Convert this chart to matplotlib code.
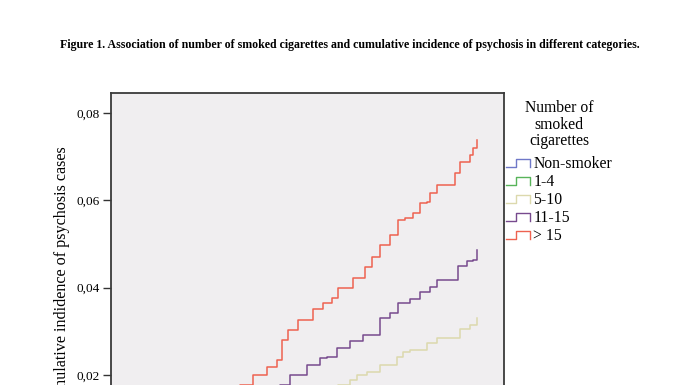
import matplotlib
matplotlib.use("Agg")
from matplotlib import pyplot as plt
from matplotlib.legend_handler import HandlerBase
from matplotlib.lines import Line2D

plt.rcParams['font.family'] = ['Liberation Serif', 'DejaVu Serif']

# follow-up time (arbitrary units, axis not visible) and cumulative incidence
t_non = [0, 4.0, 8.0, 12.0, 16.0, 18.63]
ci_non = [0, 0.002, 0.004, 0.006, 0.008, 0.0095]

t_1_4 = [0, 4.0, 8.0, 12.0, 16.0, 18.63]
ci_1_4 = [0, 0.003, 0.006, 0.009, 0.012, 0.014]

t_5_10 = [0, 4.0, 8.0, 10.5, 11.55, 12.16, 12.52, 13.03, 13.69, 14.56, 14.86,
          15.22, 16.08, 16.59, 17.40, 17.76, 18.27, 18.63]
ci_5_10 = [0, 0.004, 0.009, 0.0145, 0.0177, 0.0189, 0.0200, 0.0207, 0.0223,
           0.0241, 0.0253, 0.0257, 0.0273, 0.0285, 0.0285, 0.0305, 0.0315, 0.0331]

t_11_15 = [0, 3.0, 6.0, 7.8, 8.60, 9.11, 9.97, 10.64, 10.99, 11.50, 12.16, 12.83,
           13.69, 14.20, 14.61, 15.22, 15.73, 16.23, 16.59, 17.40, 17.66, 18.12,
           18.42, 18.63]
ci_11_15 = [0, 0.004, 0.010, 0.015, 0.0177, 0.0200, 0.0223, 0.0239, 0.0241,
            0.0262, 0.0278, 0.0292, 0.0331, 0.0342, 0.0365, 0.0374, 0.0390,
            0.0402, 0.0418, 0.0418, 0.0450, 0.0461, 0.0463, 0.0486]

t_gt15 = [0, 2.0, 4.0, 5.6, 6.56, 7.23, 7.94, 8.45, 8.70, 9.01, 9.52, 10.28,
          10.79, 11.25, 11.55, 12.16, 12.32, 12.93, 13.28, 13.69, 14.05, 14.20,
          14.56, 14.61, 14.96, 15.37, 15.73, 16.08, 16.23, 16.59, 17.40, 17.51,
          17.76, 18.27, 18.42, 18.63]
ci_gt15 = [0, 0.004, 0.009, 0.0145, 0.0177, 0.0200, 0.0218, 0.0234, 0.0280,
           0.0303, 0.0326, 0.0351, 0.0365, 0.0376, 0.0399, 0.0399, 0.0422,
           0.0447, 0.0470, 0.0498, 0.0498, 0.0521, 0.0521, 0.0555, 0.0560,
           0.0571, 0.0594, 0.0596, 0.0617, 0.0635, 0.0635, 0.0663, 0.0688,
           0.0704, 0.0720, 0.0738]

labels = ["Non-smoker", "1-4", "5-10", "11-15", "> 15"]
colors = ["#6f78c8", "#58b45a", "#dcd9ad", "#774a8e", "#ee6250"]
y_ticks = [0.02, 0.04, 0.06, 0.08]
y_tick_labels = ["0,02", "0,04", "0,06", "0,08"]


class StepHandler(HandlerBase):
    # little step-shaped legend key like SPSS draws
    def create_artists(self, legend, orig_handle, xdescent, ydescent,
                       width, height, fontsize, trans):
        x0 = -xdescent
        y0 = -ydescent + 0.1 * height
        y1 = -ydescent + 0.85 * height
        xs = [x0, x0 + 0.4 * width, x0 + 0.4 * width, x0 + width, x0 + width]
        ys = [y0, y0, y1, y1, y0]
        ln = Line2D(xs, ys, color=orig_handle.get_color(), lw=1.0)
        ln.set_transform(trans)
        return [ln]


fig = plt.figure(figsize=(6.96, 3.85), dpi=100)
ax = fig.add_axes([0.1595, -0.2008, 0.5647, 0.9592])
ax.set_facecolor("#f0eef0")

series = [(t_non, ci_non), (t_1_4, ci_1_4), (t_5_10, ci_5_10),
          (t_11_15, ci_11_15), (t_gt15, ci_gt15)]
handles = []
for (t, ci), lab, col in zip(series, labels, colors):
    h, = ax.step(t, ci, where='post', color=col, lw=1.1, label=lab)
    handles.append(h)

ax.set_xlim(0, 20)
ax.set_ylim(0, 0.0846)
ax.set_yticks(y_ticks)
ax.set_yticklabels(y_tick_labels, fontsize=9.5)
ax.tick_params(axis='y', length=6, width=1.0, color="#333333", pad=2)
ax.set_xticks([])
for sp in ax.spines.values():
    sp.set_color("#3a3a3a")
    sp.set_linewidth(1.3)

ax.set_ylabel("Cumulative indidence of psychosis cases", fontsize=11.6)
ax.yaxis.set_label_coords(-0.104, 0.5)

fig.text(0.503, 0.883, "Figure 1. Association of number of smoked cigarettes and "
         "cumulative incidence of psychosis in different categories.",
         ha='center', va='center', fontsize=8.6, fontweight='bold')

# legend title drawn separately so it can sit centred above the keys
fig.text(559 / 696, 1 - 100 / 385, "Number of\nsmoked\ncigarettes",
         ha='center', va='top', fontsize=11.3, linespacing=1.05)

leg = fig.legend(handles, labels, loc='upper left',
                 bbox_to_anchor=(506 / 696, 1 - 156 / 385),
                 frameon=False, fontsize=11.3, handlelength=1.55,
                 handletextpad=0.18, labelspacing=0.13, borderpad=0,
                 borderaxespad=0, handler_map={Line2D: StepHandler()})

fig.savefig("out.png", dpi=100)
